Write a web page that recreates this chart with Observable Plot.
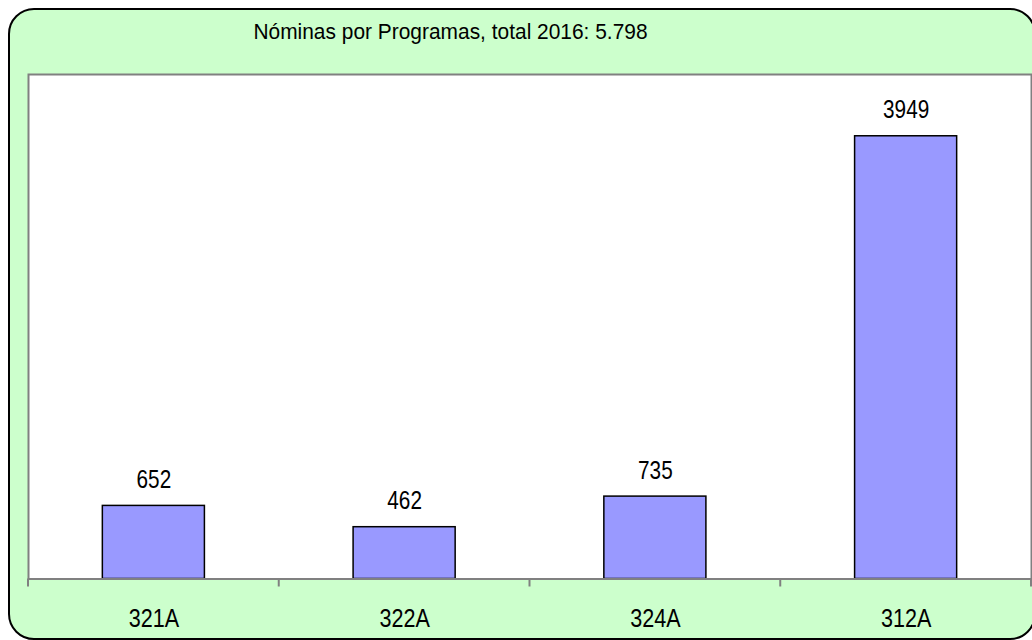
<!DOCTYPE html>
<html>
<head>
<meta charset="utf-8">
<script src="https://cdn.jsdelivr.net/npm/d3@7"></script>
<script src="https://cdn.jsdelivr.net/npm/@observablehq/plot@0.6"></script>
<style>
  html, body { margin: 0; padding: 0; overflow: hidden; background: #ffffff; }
  #wrap { position: relative; width: 1032px; height: 640px; }
  #panel {
    position: absolute; left: 8px; top: 8px; width: 1028px; height: 632px;
    box-sizing: border-box; background: #CCFFCC; border: 2px solid #000;
    border-radius: 26px;
  }
  #chart { position: absolute; left: 0; top: 0; }
</style>
</head>
<body>
<div id="wrap"><div id="panel"></div><div id="chart"></div></div>
<script>
const categories = ["321A", "322A", "324A", "312A"];
const values = [652, 462, 735, 3949];
const title = "Nóminas por Programas, total 2016: 5.798";
const yDomain = [0, 4500];

const data = categories.map((c, i) => ({cat: c, value: values[i]}));
const font = "'Liberation Sans', Arial, sans-serif";

const boundaryTicks = (index, scales, values, dims) => {
  const x = scales.x;
  const g = d3.create("svg:g").attr("stroke", "#808080").attr("stroke-width", 2);
  const gap = (x.step() - x.bandwidth()) / 2;
  const dom = x.domain();
  const bounds = dom.map(d => x(d) - gap);
  bounds.push(x(dom[dom.length - 1]) + x.bandwidth() + gap);
  const y0 = dims.height - dims.marginBottom;
  for (const b of bounds) {
    g.append("line").attr("x1", b).attr("x2", b).attr("y1", y0).attr("y2", y0 + 8);
  }
  return g.node();
};

const chart = Plot.plot({
  width: 1032,
  height: 640,
  marginLeft: 28,
  marginRight: 1,
  marginTop: 74,
  marginBottom: 61.5,
  style: {background: "transparent", fontFamily: font, color: "#000"},
  x: {domain: categories, paddingInner: 0.593, paddingOuter: 0.2965, align: 0.5, round: false, axis: null},
  y: {domain: yDomain, axis: null},
  marks: [
    Plot.frame({fill: "white", stroke: null}),
    Plot.barY(data, {x: "cat", y: "value", fill: "#9999FF", stroke: "#000", strokeWidth: 1.5}),
    Plot.frame({stroke: "#808080", strokeWidth: 2}),
    boundaryTicks,
    Plot.text(data, {x: "cat", y: "value", text: d => String(d.value), lineAnchor: "bottom", dy: -18, fontSize: 25, fill: "#000"}),
    Plot.text(categories, {x: d => d, frameAnchor: "bottom", lineAnchor: "bottom", dy: 47.5, fontSize: 26, fill: "#000"}),
    Plot.text([title], {frameAnchor: "top-left", textAnchor: "middle", lineAnchor: "bottom", dx: 422, dy: -35.5, fontSize: 22.5, fill: "#000"})
  ]
});
document.getElementById("chart").appendChild(chart);

// condense glyphs horizontally (the reference uses a narrow face)
d3.select(chart).selectAll("text").each(function() {
  const t = d3.select(this);
  const tr = t.attr("transform");
  if (!tr || t.attr("x") != null || t.attr("y") != null) return;
  const sx = this.textContent === title ? 0.93 : 0.83;
  t.attr("transform", `${tr} scale(${sx},1)`);
});
</script>
</body>
</html>
